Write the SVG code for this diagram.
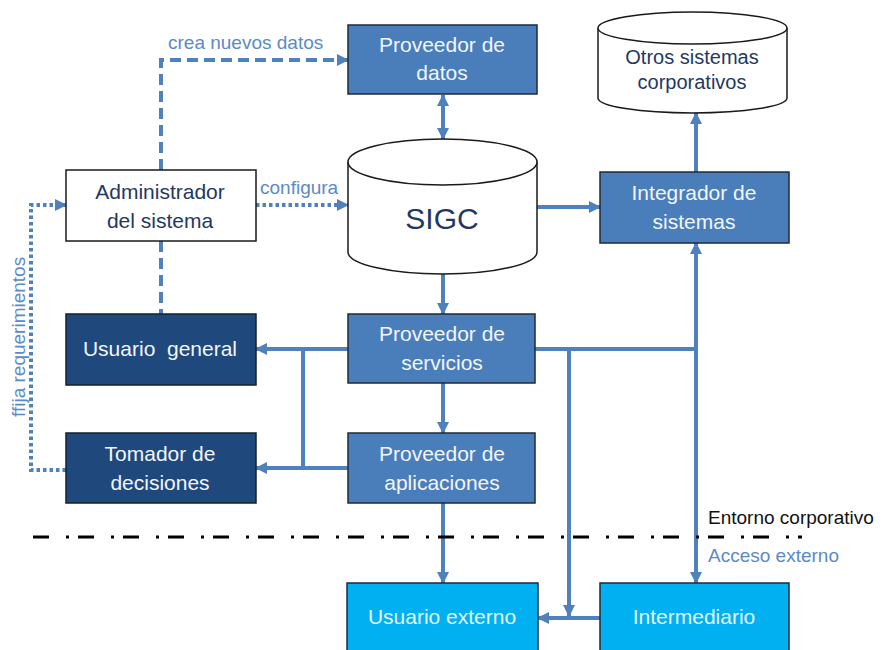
<svg xmlns="http://www.w3.org/2000/svg" width="882" height="650" viewBox="0 0 882 650">
<defs>
<marker id="ah" viewBox="0 0 12 12" refX="11" refY="6" markerWidth="12" markerHeight="12" markerUnits="userSpaceOnUse" orient="auto-start-reverse">
<path d="M0,0 L12,6 L0,12 Z" fill="#4f81bd"/>
</marker>
</defs>
<style>
text{font-family:"Liberation Sans",Arial,sans-serif;}
.mid{fill:#4a7ebb;stroke:#1e2a3a;stroke-width:1.5;}
.dark{fill:#1f497d;stroke:#14202e;stroke-width:1.5;}
.cyan{fill:#00b0f0;stroke:#1e2a3a;stroke-width:1.5;}
.white{fill:#ffffff;stroke:#1a1a1a;stroke-width:1.5;}
.tl{fill:#f2f6fc;font-size:21px;text-anchor:middle;}
.tc{fill:#e4f6ff;font-size:21px;text-anchor:middle;}
.tn{fill:#1f3864;font-size:21px;text-anchor:middle;}
.lab{fill:#5b8ac6;font-size:19px;}
.ln{fill:none;stroke:#4f81bd;stroke-width:4;}
.dash{stroke-dasharray:11 6;}
.dot{stroke-dasharray:3.5 3;}
.arr{marker-end:url(#ah);}
</style>
<g id="connectors">
<path class="ln dash arr" d="M161,170 V60 H348"/>
<path class="ln dash" d="M161,241 V314"/>
<path class="ln dot arr" d="M256,205 H348"/>
<path class="ln dot arr" d="M66,470 H31 V205 H66"/>
<path class="ln arr" d="M443,95 V139" style="marker-start:url(#ah)"/>
<path class="ln arr" d="M443,274 V314"/>
<path class="ln arr" d="M537,207 H600"/>
<path class="ln arr" d="M696,172 V113"/>
<path class="ln arr" d="M348,349 H256"/>
<path class="ln" d="M303,349 V468"/>
<path class="ln arr" d="M348,468 H256"/>
<path class="ln arr" d="M443,383 V433"/>
<path class="ln arr" d="M443,503 V583"/>
<path class="ln" d="M535,349 H696"/>
<path class="ln arr" d="M696,351 V243"/>
<path class="ln arr" d="M696,347 V583"/>
<path class="ln arr" d="M569,349 V616"/>
<path class="ln arr" d="M600,618 H538"/>
<path d="M33,537 H802" fill="none" stroke="#000" stroke-width="3" stroke-dasharray="16 17 3 9"/>
<text class="lab" x="168" y="49">crea nuevos datos</text>
<text class="lab" x="260" y="194">configura</text>
<text class="lab" transform="translate(25,417) rotate(-90)">ffija requerimientos</text>
<text x="708" y="524" style="font-size:19px;fill:#111">Entorno corporativo</text>
<text class="lab" x="708" y="562">Acceso externo</text>
</g>
<g id="proveedor-datos">
<rect class="mid" x="348" y="25" width="189" height="69"/>
<text class="tl" x="442" y="52">Proveedor de</text>
<text class="tl" x="442" y="80">datos</text>
</g>
<g id="otros-sistemas">
<path class="white" d="M598,28 V98 A94.5,15 0 0 0 787,98 V28"/>
<ellipse class="white" cx="692.5" cy="28" rx="94.5" ry="16"/>
<text class="tn" x="692" y="64" style="font-size:20px">Otros sistemas</text>
<text class="tn" x="692" y="89" style="font-size:20px">corporativos</text>
</g>
<g id="administrador">
<rect class="white" x="66" y="170" width="190" height="71"/>
<text class="tn" x="160" y="199">Administrador</text>
<text class="tn" x="160" y="228">del sistema</text>
</g>
<g id="sigc">
<path class="white" d="M348,162 V252 A94.5,22 0 0 0 537,252 V162"/>
<ellipse class="white" cx="442.5" cy="162" rx="94.5" ry="23"/>
<text class="tn" x="442" y="229" style="font-size:30px">SIGC</text>
</g>
<g id="integrador">
<rect class="mid" x="600" y="172" width="189" height="71"/>
<text class="tl" x="694" y="200">Integrador de</text>
<text class="tl" x="694" y="229">sistemas</text>
</g>
<g id="usuario-general">
<rect class="dark" x="66" y="314" width="190" height="71"/>
<text class="tl" x="160" y="356">Usuario&#160; general</text>
</g>
<g id="proveedor-servicios">
<rect class="mid" x="348" y="314" width="187" height="69"/>
<text class="tl" x="442" y="341">Proveedor de</text>
<text class="tl" x="442" y="370">servicios</text>
</g>
<g id="tomador">
<rect class="dark" x="66" y="433" width="190" height="70"/>
<text class="tl" x="160" y="461">Tomador de</text>
<text class="tl" x="160" y="490">decisiones</text>
</g>
<g id="proveedor-aplicaciones">
<rect class="mid" x="348" y="433" width="187" height="70"/>
<text class="tl" x="442" y="461">Proveedor de</text>
<text class="tl" x="442" y="490">aplicaciones</text>
</g>
<g id="usuario-externo">
<rect class="cyan" x="347" y="583" width="191" height="75"/>
<text class="tc" x="442" y="624">Usuario externo</text>
</g>
<g id="intermediario">
<rect class="cyan" x="600" y="583" width="189" height="75"/>
<text class="tc" x="694" y="624">Intermediario</text>
</g>
</svg>
